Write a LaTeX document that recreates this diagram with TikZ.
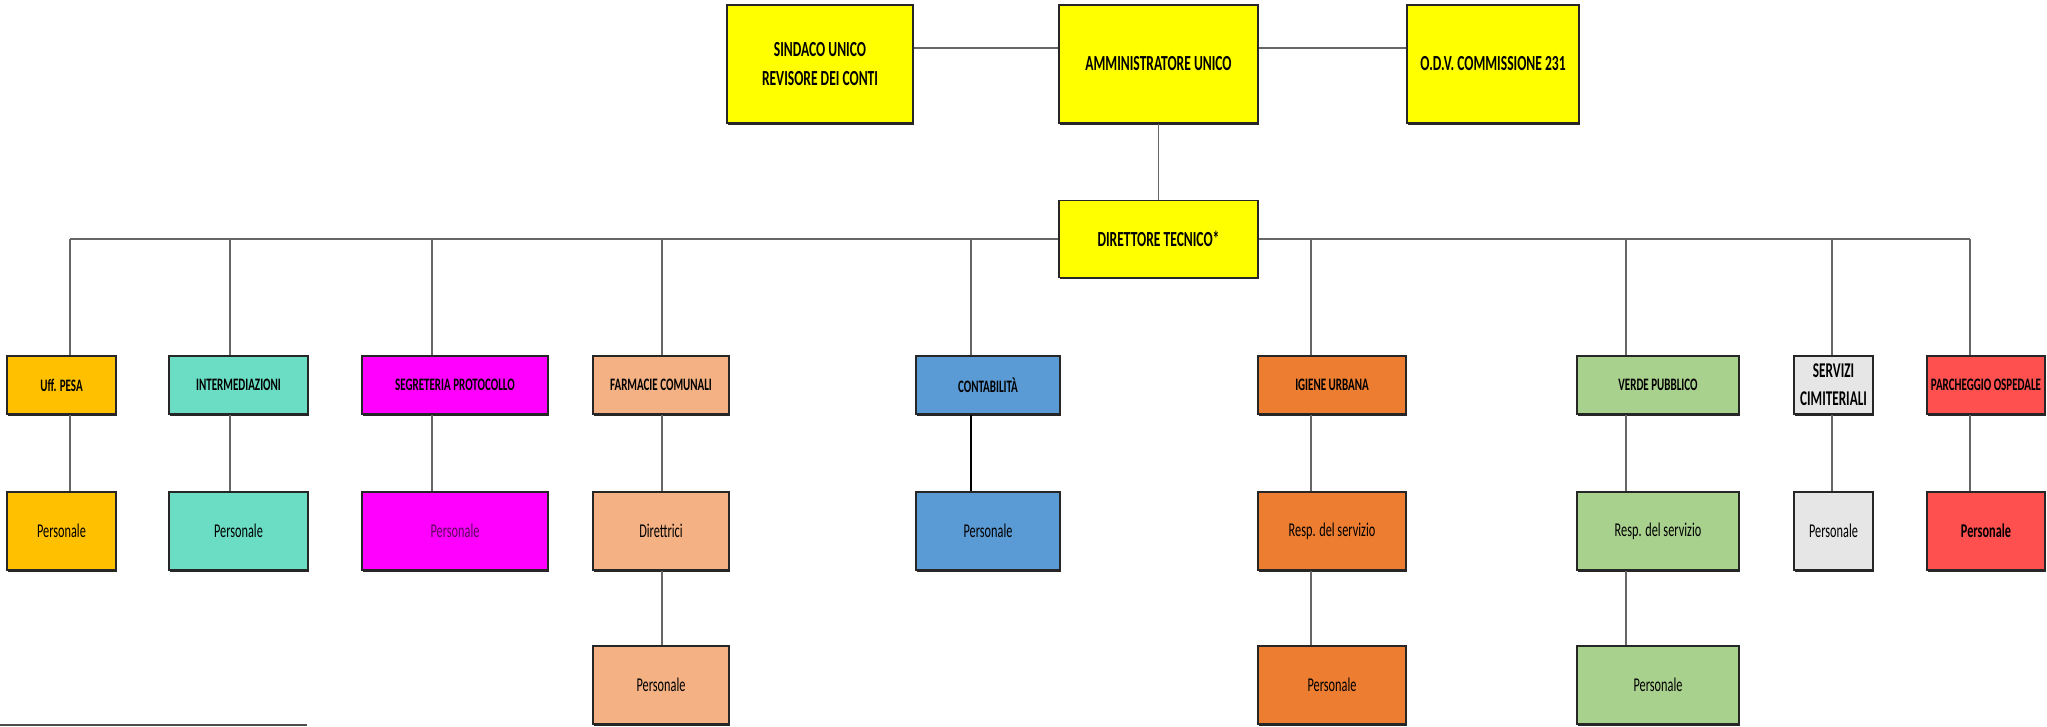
\documentclass[tikz,border=0pt]{standalone}
\usepackage{fontspec}
\setmainfont{Carlito}[FakeStretch=0.63]
\usepackage{tikz}
\usetikzlibrary{positioning,shadows}
\definecolor{yelbox}{HTML}{FFFF00}
\definecolor{pesacol}{HTML}{FFC000}
\definecolor{intercol}{HTML}{6ADDC4}
\definecolor{segrcol}{HTML}{FF00FF}
\definecolor{segrtext}{HTML}{5E0A5E}
\definecolor{farmcol}{HTML}{F4B183}
\definecolor{contcol}{HTML}{5B9BD5}
\definecolor{igiecol}{HTML}{ED7D31}
\definecolor{verdcol}{HTML}{A9D18E}
\definecolor{servcol}{HTML}{E7E6E6}
\definecolor{parccol}{HTML}{FF5050}
\tikzset{
  orgbox/.style={draw=black!85, line width=1.5pt, inner sep=1pt, align=center,
    drop shadow={shadow xshift=0.8pt, shadow yshift=-2pt, fill=black!85, opacity=1}},
  topbox/.style={orgbox, fill=yelbox, minimum height=118pt, font=\bfseries\fontsize{21.5}{29}\selectfont},
  deptbox/.style={orgbox, minimum height=58pt, font=\bfseries\fontsize{17.5}{24}\selectfont},
  staffbox/.style={orgbox, minimum height=78pt, font=\fontsize{19.5}{24}\selectfont},
  conn/.style={draw=black!60, line width=1.3pt},
  boldconn/.style={draw=black, line width=2pt}
}

\begin{document}
\begin{tikzpicture}[x=1pt, y=-1pt]
  \useasboundingbox (0,0) rectangle (2047,727);
  % vertici
  \node[topbox, minimum width=186pt] (sind) at (820,64) {SINDACO UNICO\\REVISORE DEI CONTI};
  \node[topbox, minimum width=199pt] (amm) at (1158.5,64) {AMMINISTRATORE UNICO};
  \node[topbox, minimum width=172pt] (odv) at (1493,64) {O.D.V. COMMISSIONE 231};
  \node[topbox, minimum width=199pt, minimum height=77pt] (dt) at (1158.5,239) {DIRETTORE TECNICO*};
  \coordinate (toplink) at (1158.5,48);
  \draw[conn] (sind.east |- toplink) -- (amm.west |- toplink);
  \draw[conn] (amm.east |- toplink) -- (odv.west |- toplink);
  \draw[conn] (amm) -- (dt);

  % settori
  \node[deptbox, fill=pesacol, minimum width=109pt] (pesa) at (61.5,385) {Uff. PESA};
  \node[deptbox, fill=intercol, minimum width=139pt] (inter) at (238.5,385) {INTERMEDIAZIONI};
  \node[deptbox, fill=segrcol, minimum width=186pt] (segr) at (455,385) {SEGRETERIA PROTOCOLLO};
  \node[deptbox, fill=farmcol, minimum width=136pt] (farm) at (661,385) {FARMACIE COMUNALI};
  \node[deptbox, fill=contcol, minimum width=144pt] (cont) at (988,385) {CONTABILIT\`A};
  \node[deptbox, fill=igiecol, minimum width=148pt] (igie) at (1332,385) {IGIENE URBANA};
  \node[deptbox, fill=verdcol, minimum width=162pt] (verd) at (1658,385) {VERDE PUBBLICO};
  \node[deptbox, fill=servcol, minimum width=79pt, font=\bfseries\fontsize{21}{28}\selectfont] (serv) at (1833.5,385) {SERVIZI\\CIMITERIALI};
  \node[deptbox, fill=parccol, minimum width=118pt] (parc) at (1986,385) {PARCHEGGIO OSPEDALE};

  % personale
  \node[staffbox, fill=pesacol, minimum width=109pt] (pesa-p) at (61.5,531) {Personale};
  \node[staffbox, fill=intercol, minimum width=139pt] (inter-p) at (238.5,531) {Personale};
  \node[staffbox, fill=segrcol, minimum width=186pt, text=segrtext] (segr-p) at (455,531) {Personale};
  \node[staffbox, fill=farmcol, minimum width=136pt] (farm-d) at (661,531) {Direttrici};
  \node[staffbox, fill=contcol, minimum width=144pt] (cont-p) at (988,531) {Personale};
  \node[staffbox, fill=igiecol, minimum width=148pt] (igie-r) at (1332,531) {Resp. del servizio};
  \node[staffbox, fill=verdcol, minimum width=162pt] (verd-r) at (1658,531) {Resp. del servizio};
  \node[staffbox, fill=servcol, minimum width=79pt] (serv-p) at (1833.5,531) {Personale};
  \node[staffbox, fill=parccol, minimum width=118pt, font=\bfseries\fontsize{19.5}{24}\selectfont] (parc-p) at (1986,531) {Personale};
  \node[staffbox, fill=farmcol, minimum width=136pt] (farm-p) at (661,685) {Personale};
  \node[staffbox, fill=igiecol, minimum width=148pt] (igie-p) at (1332,685) {Personale};
  \node[staffbox, fill=verdcol, minimum width=162pt] (verd-p) at (1658,685) {Personale};

  % linea orizzontale
  \coordinate (b1) at (70,239);
  \coordinate (b2) at (230,239);
  \coordinate (b3) at (432,239);
  \coordinate (b4) at (662,239);
  \coordinate (b5) at (971,239);
  \coordinate (b6) at (1311,239);
  \coordinate (b7) at (1626,239);
  \coordinate (b8) at (1832,239);
  \coordinate (b9) at (1970,239);
  \draw[conn] (b1) -- (dt.west);
  \draw[conn] (dt.east) -- (b9);

  \draw[conn] (b1) -- (b1 |- pesa.north);
  \draw[conn] (b2) -- (b2 |- inter.north);
  \draw[conn] (b3) -- (b3 |- segr.north);
  \draw[conn] (b4) -- (b4 |- farm.north);
  \draw[conn] (b5) -- (b5 |- cont.north);
  \draw[conn] (b6) -- (b6 |- igie.north);
  \draw[conn] (b7) -- (b7 |- verd.north);
  \draw[conn] (b8) -- (b8 |- serv.north);
  \draw[conn] (b9) -- (b9 |- parc.north);

  \draw[conn] (b1 |- pesa.south) -- (b1 |- pesa-p.north);
  \draw[conn] (b2 |- inter.south) -- (b2 |- inter-p.north);
  \draw[conn] (b3 |- segr.south) -- (b3 |- segr-p.north);
  \draw[conn] (b4 |- farm.south) -- (b4 |- farm-d.north);
  \draw[boldconn] (b5 |- cont.south) -- (b5 |- cont-p.north);
  \draw[conn] (b6 |- igie.south) -- (b6 |- igie-r.north);
  \draw[conn] (b7 |- verd.south) -- (b7 |- verd-r.north);
  \draw[conn] (b8 |- serv.south) -- (b8 |- serv-p.north);
  \draw[conn] (b9 |- parc.south) -- (b9 |- parc-p.north);

  \draw[conn] (b4 |- farm-d.south) -- (b4 |- farm-p.north);
  \draw[conn] (b6 |- igie-r.south) -- (b6 |- igie-p.north);
  \draw[conn] (b7 |- verd-r.south) -- (b7 |- verd-p.north);

  % riquadro tagliato in basso
  \coordinate (noteL) at (0,725);
  \coordinate (noteR) at (307,725);
  \draw[draw=black!70, line width=1.5pt] (noteL) -- (noteR);
\end{tikzpicture}
\end{document}
